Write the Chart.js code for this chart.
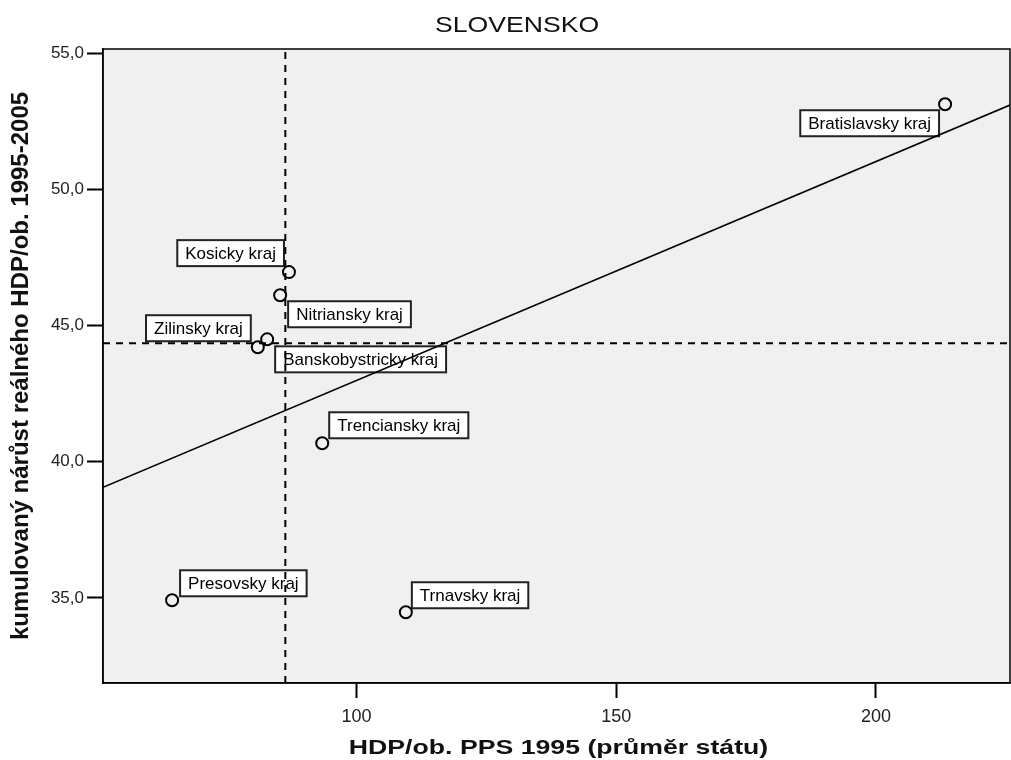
<!DOCTYPE html>
<html>
<head>
<meta charset="utf-8">
<script src="https://cdn.jsdelivr.net/npm/chart.js@4"></script>
<style>
  html, body { margin: 0; padding: 0; background: #fff; }
</style>
</head>
<body>
<canvas id="chart" width="1011" height="760"></canvas>
<script>
// data
const regions = ['Bratislavsky kraj', 'Kosicky kraj', 'Nitriansky kraj', 'Zilinsky kraj',
                 'Banskobystricky kraj', 'Trenciansky kraj', 'Presovsky kraj', 'Trnavsky kraj'];
const hdp1995 = [213.3, 87.0, 85.3, 81.0, 82.8, 93.4, 64.5, 109.5];
const growth = [53.14, 46.97, 46.12, 44.21, 44.50, 40.68, 34.91, 34.47];
const xTicks = [100, 150, 200];
const yTicks = [35, 40, 45, 50, 55];
const refX = 86.3;   // vertical dashed line
const refY = 44.36;  // horizontal dashed line
const fitX = [51.2, 225.8];
const fitY = [39.06, 53.11];
const xRange = [51.2, 225.8];
const yRange = [31.87, 55.17];

const chartTitle = 'SLOVENSKO';
const xTitle = 'HDP/ob. PPS 1995 (průměr státu)';
const yTitle = 'kumulovaný nárůst reálného HDP/ob. 1995-2005';

// where each label box sits around its point: side + pixel gaps
const labelPlace = [
    { h: 'left', v: 'below', dx: 6, dy: 6 },
    { h: 'left', v: 'above', dx: 5, dy: 6 },
    { h: 'right', v: 'below', dx: 8, dy: 6 },
    { h: 'left', v: 'above', dx: 7, dy: 6 },
    { h: 'right', v: 'below', dx: 8, dy: 7 },
    { h: 'right', v: 'above', dx: 7, dy: 5 },
    { h: 'right', v: 'above', dx: 8, dy: 4 },
    { h: 'right', v: 'above', dx: 6, dy: 4 }
];

const FONT = '"Liberation Sans", Arial, sans-serif';

// the original text is a bit wide, so stretch it sideways
function stretchedText(ctx, text, cx, cy, font, sx) {
    ctx.save();
    ctx.font = font;
    ctx.fillStyle = '#111';
    ctx.textAlign = 'center';
    ctx.textBaseline = 'middle';
    ctx.translate(cx, cy);
    ctx.scale(sx, 1);
    ctx.fillText(text, 0, 0);
    ctx.restore();
}

const plotBox = {
    id: 'plotBox',
    beforeDraw(chart) {
        const a = chart.chartArea, ctx = chart.ctx;
        ctx.save();
        ctx.fillStyle = '#f0f0f0';
        ctx.fillRect(a.left, a.top, a.right - a.left, a.bottom - a.top);
        ctx.restore();
    },
    beforeDatasetsDraw(chart) {
        // labels go under the lines, like in the original
        const ctx = chart.ctx;
        const xs = chart.scales.x, ys = chart.scales.y;
        ctx.save();
        ctx.font = '17px ' + FONT;
        ctx.textBaseline = 'middle';
        regions.forEach((name, i) => {
            const px = xs.getPixelForValue(hdp1995[i]);
            const py = ys.getPixelForValue(growth[i]);
            const p = labelPlace[i];
            const w = ctx.measureText(name).width + 16;
            const h = 26;
            const left = p.h === 'left' ? px - p.dx - w : px + p.dx;
            const top = p.v === 'above' ? py - p.dy - h : py + p.dy;
            ctx.fillStyle = '#fff';
            ctx.fillRect(left, top, w, h);
            ctx.strokeStyle = '#222';
            ctx.lineWidth = 2;
            ctx.strokeRect(left, top, w, h);
            ctx.fillStyle = '#000';
            ctx.fillText(name, left + 8, top + h / 2 + 1);
        });
        ctx.restore();
    },
    afterDatasetsDraw(chart) {
        const a = chart.chartArea, ctx = chart.ctx;
        ctx.save();
        ctx.strokeStyle = '#000';
        ctx.lineWidth = 1.5;
        ctx.strokeRect(a.left, a.top, a.right - a.left, a.bottom - a.top);
        ctx.restore();
    },
    afterDraw(chart) {
        const ctx = chart.ctx, a = chart.chartArea;
        stretchedText(ctx, chartTitle, 517, 26, '22px ' + FONT, 1.21);
        stretchedText(ctx, xTitle, (a.left + a.right) / 2 + 2, 748, 'bold 21px ' + FONT, 1.27);
    }
};

const points = regions.map((r, i) => ({ x: hdp1995[i], y: growth[i] }));

new Chart(document.getElementById('chart'), {
    type: 'scatter',
    data: {
        datasets: [
            {
                data: points,
                pointRadius: 6,
                pointHoverRadius: 6,
                borderWidth: 2,
                borderColor: '#000',
                backgroundColor: 'rgba(0,0,0,0)',
                order: 0
            },
            {
                data: [{ x: fitX[0], y: fitY[0] }, { x: fitX[1], y: fitY[1] }],
                showLine: true,
                pointRadius: 0,
                borderColor: '#000',
                borderWidth: 1.6,
                order: 1
            },
            {
                data: [{ x: refX, y: yRange[0] }, { x: refX, y: yRange[1] }],
                showLine: true,
                pointRadius: 0,
                borderColor: '#000',
                borderWidth: 2,
                borderDash: [7, 6],
                order: 2
            },
            {
                data: [{ x: xRange[0], y: refY }, { x: xRange[1], y: refY }],
                showLine: true,
                pointRadius: 0,
                borderColor: '#000',
                borderWidth: 2,
                borderDash: [7, 6],
                order: 3
            }
        ]
    },
    options: {
        responsive: false,
        animation: false,
        devicePixelRatio: 1,
        layout: { autoPadding: false, padding: { top: 49, right: 1 } },
        plugins: {
            legend: { display: false },
            tooltip: { enabled: false },
            title: { display: false }
        },
        scales: {
            x: {
                type: 'linear',
                min: xRange[0],
                max: xRange[1],
                afterBuildTicks: s => { s.ticks = xTicks.map(v => ({ value: v })); },
                afterFit: s => { s.height = 77; s.paddingLeft = 0; s.paddingRight = 0; },
                ticks: { color: '#222', font: { family: FONT, size: 18 }, padding: 8, callback: v => v },
                grid: { drawOnChartArea: false, tickLength: 15, tickColor: '#000', tickWidth: 2 },
                border: { display: true, color: '#000', width: 1.5 },
                title: { display: false }
            },
            y: {
                type: 'linear',
                min: yRange[0],
                max: yRange[1],
                afterBuildTicks: s => { s.ticks = yTicks.map(v => ({ value: v })); },
                afterFit: s => { s.width = 103; s.paddingTop = 0; s.paddingBottom = 0; },
                ticks: {
                    color: '#222',
                    font: { family: FONT, size: 17 },
                    padding: 3,
                    callback: v => v.toFixed(1).replace('.', ',')
                },
                grid: { drawOnChartArea: false, tickLength: 16, tickColor: '#000', tickWidth: 2 },
                border: { display: true, color: '#000', width: 1.5 },
                title: {
                    display: true,
                    text: yTitle,
                    color: '#111',
                    font: { family: FONT, size: 24, weight: 'bold' },
                    padding: { top: 7, bottom: 7 }
                }
            }
        }
    },
    plugins: [plotBox]
});
</script>
</body>
</html>
